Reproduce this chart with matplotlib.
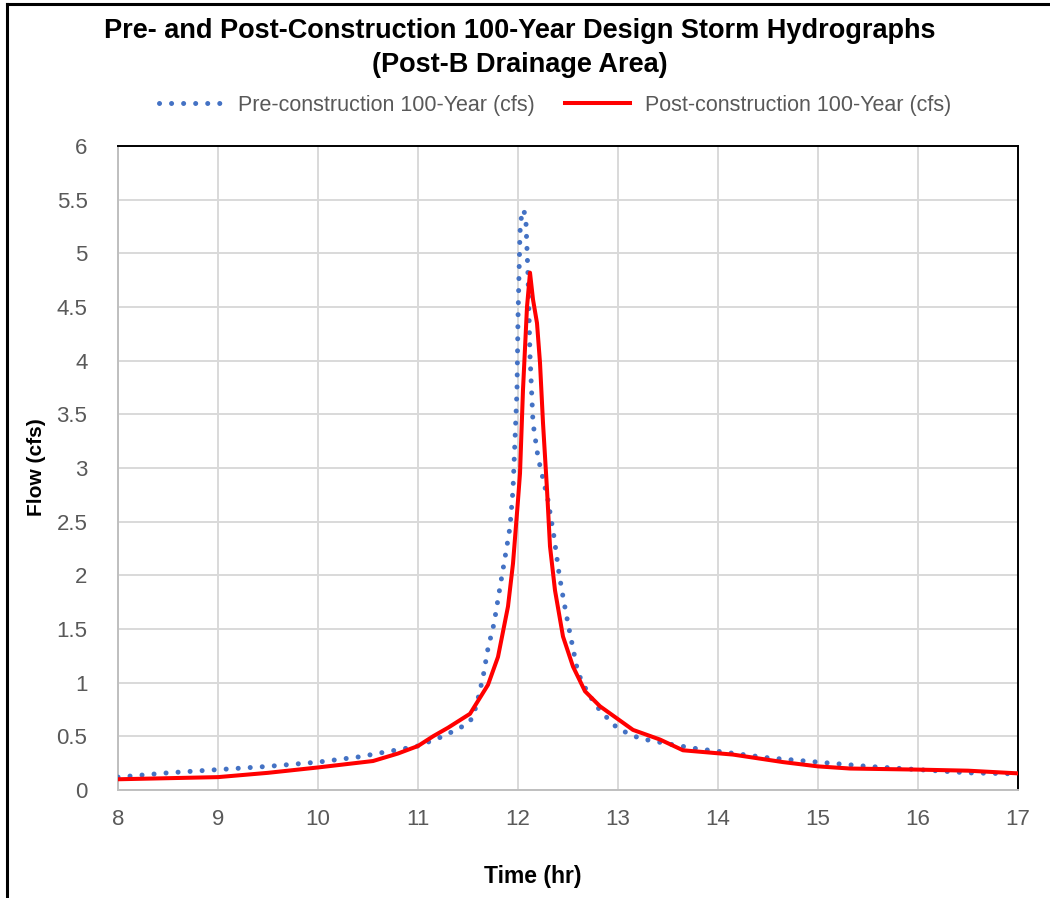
import numpy as np
import matplotlib
matplotlib.use("Agg")
import matplotlib.pyplot as plt
from matplotlib.lines import Line2D

plt.rcParams["font.family"] = ["Liberation Sans", "DejaVu Sans"]

# pre-construction hydrograph (hr, cfs)
pre_t = [8.0, 8.5, 9.0, 9.5, 10.0, 10.42, 10.65, 10.89, 11.0, 11.25, 11.4, 11.5, 11.55,
         11.6, 11.65, 11.7, 11.76, 11.82, 11.88, 11.92, 11.95, 11.99, 12.0, 12.02, 12.04,
         12.06, 12.08, 12.1, 12.12, 12.15, 12.2, 12.25, 12.3, 12.36, 12.41, 12.45, 12.5,
         12.55, 12.6, 12.7, 12.82, 13.0, 13.22, 13.5, 13.75, 14.0, 14.5, 15.0, 15.5, 16.0,
         16.5, 17.0]
pre_q = [0.12, 0.16, 0.19, 0.22, 0.26, 0.31, 0.35, 0.39, 0.41, 0.50, 0.57, 0.62, 0.68,
         0.85, 1.05, 1.32, 1.55, 1.89, 2.22, 2.45, 2.80, 3.73, 4.40, 5.20, 5.40,
         5.40, 5.28, 4.80, 4.05, 3.42, 3.10, 2.90, 2.70, 2.36, 2.02, 1.80, 1.55,
         1.32, 1.09, 0.90, 0.74, 0.57, 0.48, 0.43, 0.39, 0.36, 0.30, 0.26, 0.22, 0.19,
         0.16, 0.15]

# post-construction hydrograph (hr, cfs)
post_t = [8.0, 8.5, 9.0, 9.5, 10.0, 10.55, 10.8, 11.0, 11.15, 11.3, 11.52, 11.7, 11.8,
          11.9, 11.95, 12.0, 12.02, 12.05, 12.09, 12.12, 12.15, 12.19, 12.22, 12.25, 12.29,
          12.32, 12.37, 12.45, 12.55, 12.67, 12.82, 13.0, 13.15, 13.42, 13.65, 14.15, 14.65,
          15.0, 15.32, 16.0, 16.5, 17.0]
post_q = [0.10, 0.11, 0.12, 0.16, 0.21, 0.27, 0.34, 0.41, 0.50, 0.58, 0.71, 0.98, 1.24,
          1.71, 2.11, 2.70, 2.95, 3.73, 4.50, 4.82, 4.57, 4.35, 3.98, 3.42, 2.80,
          2.27, 1.86, 1.43, 1.15, 0.92, 0.78, 0.66, 0.56, 0.47, 0.37, 0.33, 0.26,
          0.22, 0.20, 0.19, 0.18, 0.155]

x_ticks = list(range(8, 18))
y_ticks = [0, 0.5, 1, 1.5, 2, 2.5, 3, 3.5, 4, 4.5, 5, 5.5, 6]
y_labels = ["0", "0.5", "1", "1.5", "2", "2.5", "3", "3.5", "4", "4.5", "5", "5.5", "6"]

BLUE = "#4472C4"
RED = "#FF0000"
TICK = "#595959"
DOTS = (0, (0.01, 2.4))

fig = plt.figure(figsize=(10.5, 8.98), dpi=100)
ax = fig.add_axes([118/1050, 1 - 790/898, 900/1050, 644/898])

ax.plot(pre_t, pre_q, color=BLUE, lw=3.6, linestyle=DOTS, dash_capstyle="round", zorder=3)
ax.plot(post_t, post_q, color=RED, lw=2.9, zorder=4)

ax.set_xlim(8, 17)
ax.set_ylim(0, 6)
ax.set_xticks(x_ticks)
ax.set_yticks(y_ticks)
ax.set_yticklabels(y_labels)
ax.tick_params(length=0, labelsize=16, colors=TICK)
ax.tick_params(axis="x", pad=14)
ax.tick_params(axis="y", pad=22)
ax.grid(color="#d9d9d9", lw=1.4)
ax.set_axisbelow(True)
for s in ["top", "right"]:
    ax.spines[s].set_color("black")
    ax.spines[s].set_linewidth(1.4)
for s in ["left", "bottom"]:
    ax.spines[s].set_color("#bfbfbf")
    ax.spines[s].set_linewidth(1.4)

fig.text(520/1050, 1 - 31/898, "Pre- and Post-Construction 100-Year Design Storm Hydrographs",
         ha="center", va="center", fontsize=19.5, fontweight="bold")
fig.text(520/1050, 1 - 65/898, "(Post-B Drainage Area)",
         ha="center", va="center", fontsize=19.5, fontweight="bold")
fig.text(533/1050, 1 - 877/898, "Time (hr)", ha="center", va="center",
         fontsize=16.5, fontweight="bold")
fig.text(37/1050, 1 - 467/898, "Flow (cfs)", ha="center", va="center",
         fontsize=15, fontweight="bold", rotation=90)

handles = [
    Line2D([], [], color=BLUE, lw=3.6, linestyle=DOTS, dash_capstyle="round",
           label="Pre-construction 100-Year (cfs)"),
    Line2D([], [], color=RED, lw=2.9, label="Post-construction 100-Year (cfs)"),
]
fig.legend(handles=handles, loc="center", bbox_to_anchor=(555/1050, 1 - 105/898),
           ncol=2, frameon=False, fontsize=15.5, handlelength=3.0, handletextpad=0.7,
           columnspacing=1.4, labelcolor=TICK)

# outer chart border (left and top edges visible)
fig.add_artist(Line2D([7/1050, 7/1050], [0, 1 - 4/898], color="black", lw=2.2,
                      transform=fig.transFigure))
fig.add_artist(Line2D([7/1050, 1], [1 - 4/898, 1 - 4/898], color="black", lw=2.2,
                      transform=fig.transFigure))

fig.savefig("out.png", dpi=100)
